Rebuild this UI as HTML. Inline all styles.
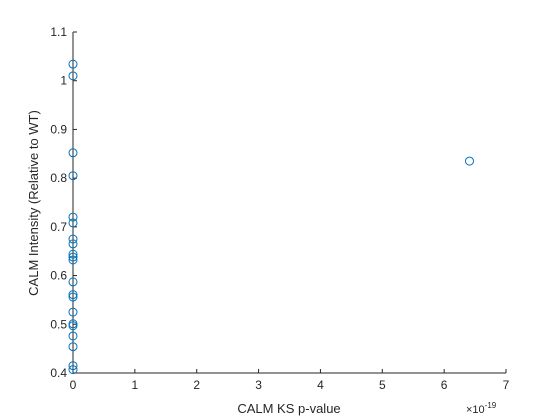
<!DOCTYPE html>
<html><head><meta charset="utf-8"><style>
body{margin:0;background:#fff;}
svg{display:block;font-family:"Liberation Sans",sans-serif;}
</style></head><body>
<svg id="chart" width="560" height="420">
<rect x="0" y="0" width="560" height="420" fill="#fff"/>
<g id="axes"></g>
<g id="points"></g>
</svg>
<script>
const xValues=[0,0,0,0,0,0,0,0,0,0,0,0,0,0,0,0,0,0,0,0,0,6.41];
const yValues=[1.034,1.010,0.852,0.805,0.720,0.708,0.675,0.665,0.644,0.638,0.632,0.587,0.561,0.556,0.525,0.501,0.497,0.476,0.454,0.415,0.407,0.835];
const xTicks=[0,1,2,3,4,5,6,7];
const yTicks=[0.4,0.5,0.6,0.7,0.8,0.9,1,1.1];
const L=73,R=506,T=32,B=373;
const sx=v=>L+(v-0)/(7-0)*(R-L);
const sy=v=>B-(v-0.4)/(1.1-0.4)*(B-T);
const NS='http://www.w3.org/2000/svg';
function mk(t,a,p){const e=document.createElementNS(NS,t);for(const k in a)e.setAttribute(k,a[k]);p.appendChild(e);return e;}
const ax=document.getElementById('axes'),pt=document.getElementById('points');
let e=mk('line',{x1:L,y1:B,x2:R,y2:B,stroke:'#262626','stroke-width':1},ax);


e=mk('line',{x1:L,y1:T,x2:L,y2:B,stroke:'#262626','stroke-width':1},ax);


xTicks.forEach(v=>{const x=sx(v);
mk('line',{x1:x,y1:B,x2:x,y2:B-4,stroke:'#262626'},ax);
const t=mk('text',{x:x,y:B+16,'text-anchor':'middle','font-size':12,fill:'#262626'},ax);t.textContent=v;

});
yTicks.forEach(v=>{const y=sy(v);
mk('line',{x1:L,y1:y,x2:L+4,y2:y,stroke:'#262626'},ax);
const t=mk('text',{x:L-6,y:y+4,'text-anchor':'end','font-size':12,fill:'#262626'},ax);t.textContent=v;

});
let t=mk('text',{x:289,y:413,'text-anchor':'middle','font-size':13,fill:'#262626'},ax);t.textContent='CALM KS p-value';


t=mk('text',{x:0,y:0,'text-anchor':'middle','font-size':13,fill:'#262626',transform:'translate(38,203) rotate(-90)'},ax);t.textContent='CALM Intensity (Relative to WT)';


t=mk('text',{x:466,y:413,'font-size':11,fill:'#262626'},ax);t.innerHTML='×10<tspan dy="-5" font-size="8">-19</tspan>';


xValues.forEach((v,i)=>{const c=mk('circle',{cx:sx(v),cy:sy(yValues[i]),r:4,fill:'none',stroke:'#0072BD','stroke-width':1},pt);

});
</script>
</body></html>
